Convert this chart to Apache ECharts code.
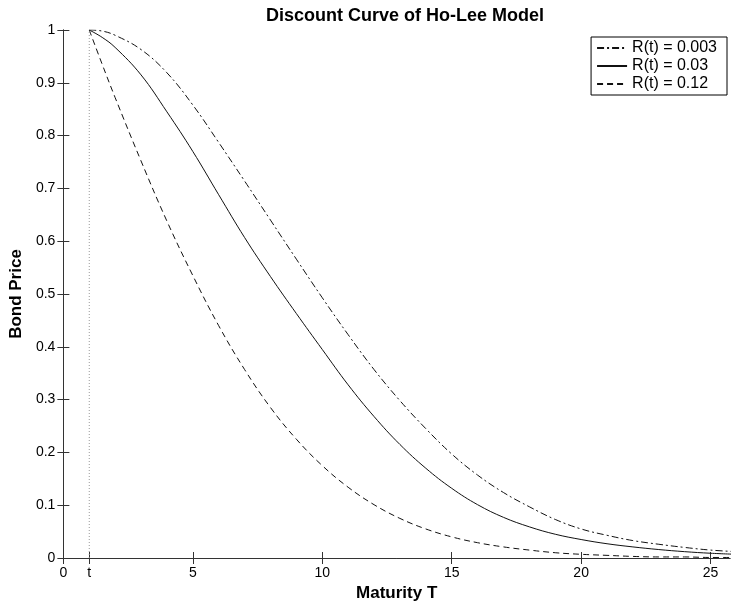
<!DOCTYPE html>
<html>
<head>
<meta charset="utf-8">
<script src="https://cdn.jsdelivr.net/npm/echarts@6/dist/echarts.min.js"></script>
<style>
  html, body { margin: 0; padding: 0; background: #fff; }
  #main { width: 731px; height: 607px; }
</style>
</head>
<body>
<div id="main"></div>
<script>
// maturity T values where the curves are sampled
var maturity = [1, 1.5, 2, 3, 4, 5, 6, 7, 8, 9, 10, 11, 12, 13, 14, 15, 16, 17, 18, 19, 20, 21, 22, 23, 24, 25, 26];
// bond prices
var priceLow = [1, 0.998, 0.99, 0.963, 0.919, 0.858, 0.787, 0.714, 0.64, 0.566, 0.493, 0.423, 0.357, 0.298, 0.245, 0.197, 0.157, 0.124, 0.097, 0.073, 0.055, 0.043, 0.033, 0.026, 0.02, 0.015, 0.012];
var priceMid = [1, 0.986, 0.967, 0.915, 0.845, 0.77, 0.688, 0.607, 0.533, 0.463, 0.395, 0.328, 0.268, 0.215, 0.17, 0.132, 0.101, 0.077, 0.059, 0.045, 0.035, 0.027, 0.021, 0.016, 0.012, 0.009, 0.007];
var priceHigh = [1, 0.935, 0.872, 0.752, 0.638, 0.535, 0.44, 0.357, 0.285, 0.225, 0.175, 0.134, 0.101, 0.075, 0.055, 0.04, 0.029, 0.021, 0.015, 0.01, 0.007, 0.005, 0.003, 0.002, 0.002, 0.001, 0.001];
var seriesNames = ['R(t) = 0.003', 'R(t) = 0.03', 'R(t) = 0.12'];
var xTicks = [0, 1, 5, 10, 15, 20, 25];
var tStart = 1;

function pairs(ys) {
  return maturity.map(function (x, i) { return [x, ys[i]]; });
}

var myChart = echarts.init(document.getElementById('main'));
var font = 'Liberation Sans, Arial, sans-serif';
var axisColor = '#333';

var option = {
  animation: false,
  title: {
    text: 'Discount Curve of Ho-Lee Model',
    left: 400,
    textAlign: 'center',
    top: 2,
    textStyle: { fontFamily: font, fontSize: 18, fontWeight: 'bold', color: '#000' }
  },
  legend: {
    orient: 'vertical',
    right: 4,
    top: 37,
    data: seriesNames,
    backgroundColor: '#fff',
    borderColor: '#000',
    borderWidth: 1,
    borderRadius: 0,
    padding: [3, 10, 3, 5],
    itemGap: 2,
    itemWidth: 30,
    itemHeight: 14,
    itemStyle: { opacity: 0 },
    textStyle: { fontFamily: font, fontSize: 16, color: '#000' }
  },
  grid: { left: 63, right: 1, top: 30, bottom: 49 },
  xAxis: [
    {
      type: 'value',
      min: 0,
      max: 25.75,
      name: 'Maturity T',
      nameLocation: 'middle',
      nameGap: 24,
      nameTextStyle: { fontFamily: font, fontSize: 17, fontWeight: 'bold', color: '#000' },
      axisLine: { onZero: false, lineStyle: { color: axisColor } },
      axisTick: { inside: true, length: 6, customValues: xTicks, lineStyle: { color: axisColor } },
      axisLabel: {
        customValues: xTicks,
        fontFamily: font, fontSize: 14, color: '#000', margin: 8,
        formatter: function (v) { return v === tStart ? 't' : String(v); }
      },
      splitLine: { show: false }
    },
    {
      type: 'value',
      position: 'top',
      min: 0,
      max: 25.75,
      axisLine: { lineStyle: { color: axisColor } },
      axisTick: { inside: true, length: 6, customValues: xTicks, lineStyle: { color: axisColor } },
      axisLabel: { show: false },
      splitLine: { show: false }
    }
  ],
  yAxis: [
    {
      type: 'value',
      min: 0,
      max: 1,
      interval: 0.1,
      name: 'Bond Price',
      nameLocation: 'middle',
      nameGap: 38,
      nameTextStyle: { fontFamily: font, fontSize: 17, fontWeight: 'bold', color: '#000' },
      axisLine: { show: true, lineStyle: { color: axisColor } },
      axisTick: { show: true, inside: true, length: 6, lineStyle: { color: axisColor } },
      axisLabel: {
        fontFamily: font, fontSize: 14, color: '#000', margin: 8,
        formatter: function (v) { return String(Math.round(v * 10) / 10); }
      },
      splitLine: { show: false }
    },
    {
      type: 'value',
      position: 'right',
      min: 0,
      max: 1,
      interval: 0.1,
      axisLine: { show: true, lineStyle: { color: axisColor } },
      axisTick: { show: true, inside: true, length: 6, lineStyle: { color: axisColor } },
      axisLabel: { show: false },
      splitLine: { show: false }
    }
  ],
  series: [
    {
      name: seriesNames[0],
      type: 'line',
      smooth: 0.4,
      symbol: 'none',
      data: pairs(priceLow),
      lineStyle: { color: '#111', width: 1, type: [7, 3, 2, 3] },
      itemStyle: { color: '#111' }
    },
    {
      name: seriesNames[1],
      type: 'line',
      smooth: 0.4,
      symbol: 'none',
      data: pairs(priceMid),
      lineStyle: { color: '#111', width: 1, type: 'solid' },
      itemStyle: { color: '#111' }
    },
    {
      name: seriesNames[2],
      type: 'line',
      smooth: 0.4,
      symbol: 'none',
      data: pairs(priceHigh),
      lineStyle: { color: '#111', width: 1, type: [6, 4] },
      itemStyle: { color: '#111' }
    },
    {
      name: 'start',
      type: 'line',
      symbol: 'none',
      data: [[tStart, 0], [tStart, 1]],
      lineStyle: { color: '#999', width: 1, type: [1, 2] },
      silent: true
    }
  ]
};

option && myChart.setOption(option);
</script>
</body>
</html>
